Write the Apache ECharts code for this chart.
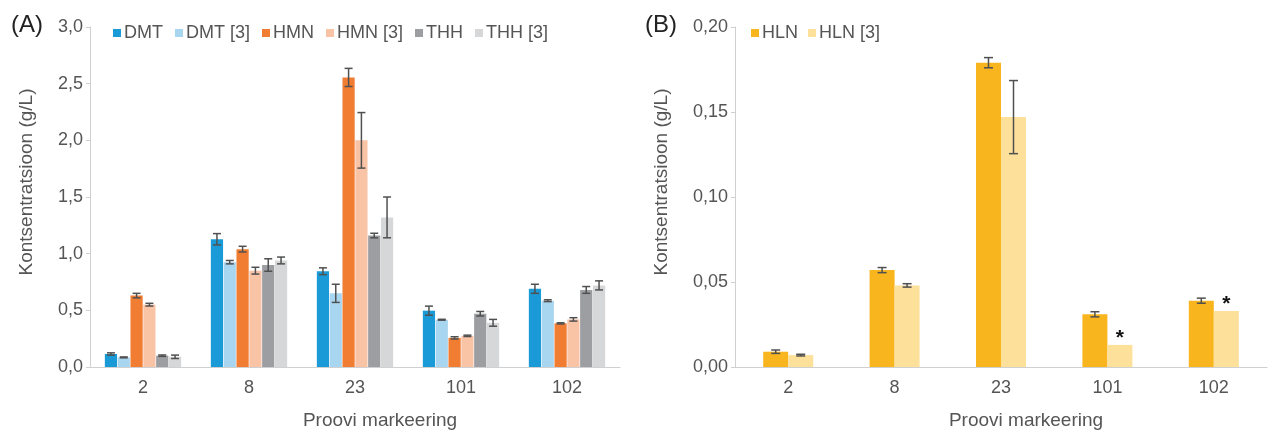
<!DOCTYPE html>
<html><head><meta charset="utf-8">
<script src="https://cdn.jsdelivr.net/npm/echarts@6/dist/echarts.min.js"></script>
<style>html,body{margin:0;padding:0;background:#fff}#c{width:1277px;height:432px}</style>
</head><body><div id="c"></div>
<script>
const categories = ['2', '8', '23', '101', '102'];
const leftNames = ['DMT', 'DMT [3]', 'HMN', 'HMN [3]', 'THH', 'THH [3]'];
const DMT = [0.115, 1.127, 0.845, 0.497, 0.69];
const DMT_err = [0.01, 0.05, 0.03, 0.04, 0.04];
const DMT3 = [0.085, 0.925, 0.65, 0.417, 0.585];
const DMT3_err = [0.004, 0.015, 0.08, 0.004, 0.008];
const HMN = [0.63, 1.04, 2.555, 0.257, 0.385];
const HMN_err = [0.02, 0.025, 0.08, 0.01, 0.005];
const HMN3 = [0.55, 0.85, 2.0, 0.275, 0.42];
const HMN3_err = [0.012, 0.03, 0.245, 0.006, 0.015];
const THH = [0.10, 0.90, 1.16, 0.47, 0.68];
const THH_err = [0.006, 0.055, 0.02, 0.02, 0.03];
const THH3 = [0.09, 0.94, 1.32, 0.39, 0.72];
const THH3_err = [0.015, 0.03, 0.18, 0.03, 0.04];
const rightNames = ['HLN', 'HLN [3]'];
const HLN = [0.009, 0.057, 0.179, 0.031, 0.039];
const HLN_err = [0.001, 0.0015, 0.003, 0.0015, 0.0015];
const HLN3 = [0.007, 0.048, 0.147, 0.013, 0.033];
const HLN3_err = [0.0005, 0.001, 0.0215, 0, 0];
const HLN3_marks = ['', '', '', '*', '*'];
const leftTicks = ['0,0', '0,5', '1,0', '1,5', '2,0', '2,5', '3,0'];
const rightTicks = ['0,00', '0,05', '0,10', '0,15', '0,20'];

const leftColors = ['#1a9bd7', '#a8d5ef', '#f07d32', '#f9c3a6', '#9c9ea2', '#d6d7d9'];
const rightColors = ['#f9b51e', '#fde09a'];
const FONT = 'Liberation Sans';
const TXT = '#555';

const leftVals = [DMT, DMT3, HMN, HMN3, THH, THH3];
const leftErrs = [DMT_err, DMT3_err, HMN_err, HMN3_err, THH_err, THH3_err];
const rightVals = [HLN, HLN3];
const rightErrs = [HLN_err, HLN3_err];

function errSeries(idx, n, catGap, barGap, vals, errs, axisIdx, cap) {
  const data = vals.map((v, i) => [i, v, errs[i]]).filter(d => d[2] > 0);
  return {
    type: 'custom', xAxisIndex: axisIdx, yAxisIndex: axisIdx, z: 10, silent: true,
    data: data,
    encode: { x: 0, y: 1 },
    renderItem: function (params, api) {
      const c = api.value(0), v = api.value(1), e = api.value(2);
      const band = api.size([1, 0])[0];
      const avail = band * (1 - catGap);
      const bw = avail / (n + (n - 1) * barGap);
      const total = n * bw + (n - 1) * bw * barGap;
      const center = api.coord([c, v])[0];
      const x = center - total / 2 + idx * bw * (1 + barGap) + bw / 2;
      const yHi = api.coord([c, v + e])[1];
      const yLo = api.coord([c, v - e])[1];
      const st = { stroke: '#505050', lineWidth: 1.5 };
      return {
        type: 'group', children: [
          { type: 'line', shape: { x1: x, y1: yHi, x2: x, y2: yLo }, style: st },
          { type: 'line', shape: { x1: x - cap, y1: yHi, x2: x + cap, y2: yHi }, style: st },
          { type: 'line', shape: { x1: x - cap, y1: yLo, x2: x + cap, y2: yLo }, style: st }
        ]
      };
    }
  };
}

const series = [];
leftNames.forEach((nm, i) => {
  series.push({
    name: nm, type: 'bar', xAxisIndex: 0, yAxisIndex: 0, data: leftVals[i],
    itemStyle: { color: leftColors[i] }, barGap: '5%', barCategoryGap: '28%'
  });
});
rightNames.forEach((nm, i) => {
  const s = {
    name: nm, type: 'bar', xAxisIndex: 1, yAxisIndex: 1, data: rightVals[i],
    itemStyle: { color: rightColors[i] }, barGap: '0%', barCategoryGap: '53%'
  };
  if (i === 1) {
    s.data = rightVals[i].map((v, k) => ({
      value: v,
      label: { show: HLN3_marks[k] !== '', formatter: HLN3_marks[k], position: 'top',
        color: '#111', fontSize: 21, fontWeight: 'bold', fontFamily: FONT, distance: 0, offset: [0, 4] }
    }));
  }
  series.push(s);
});
leftNames.forEach((nm, i) => series.push(errSeries(i, 6, 0.28, 0.05, leftVals[i], leftErrs[i], 0, 4)));
rightNames.forEach((nm, i) => series.push(errSeries(i, 2, 0.53, 0, rightVals[i], rightErrs[i], 1, 4.5)));

function yAxis(max, interval, ticks, gap) {
  return {
    type: 'value', min: 0, max: max, interval: interval,
    name: 'Kontsentratsioon (g/L)', nameLocation: 'middle', nameGap: gap,
    nameTextStyle: { color: TXT, fontSize: 19, fontFamily: FONT, padding: [0, 0, 0, 30] },
    axisLine: { show: true, lineStyle: { color: '#d0d0d0' } },
    axisTick: { show: true, length: 4, lineStyle: { color: '#d0d0d0' } },
    splitLine: { show: false },
    axisLabel: { color: TXT, fontSize: 18, fontFamily: FONT, margin: 7,
      formatter: v => ticks[Math.round(v / interval)] }
  };
}
function xAxis(idx) {
  return {
    type: 'category', gridIndex: idx, data: categories,
    name: 'Proovi markeering', nameLocation: 'middle', nameGap: 44,
    nameTextStyle: { color: TXT, fontSize: 19, fontFamily: FONT, padding: [0, 0, 0, 50] },
    axisLine: { lineStyle: { color: '#d0d0d0' } },
    axisTick: { show: false },
    axisLabel: { color: TXT, fontSize: 18, fontFamily: FONT, margin: 12 }
  };
}

const yl = yAxis(3, 0.5, leftTicks, 54); yl.gridIndex = 0;
const yr = yAxis(0.2, 0.05, rightTicks, 64); yr.gridIndex = 1;

const option = {
  animation: false,
  grid: [
    { left: 90, top: 27, width: 530, height: 340, outerBoundsMode: 'none', containLabel: false },
    { left: 735, top: 27, width: 532, height: 340, outerBoundsMode: 'none', containLabel: false }
  ],
  legend: [
    { data: leftNames, left: 108, top: 19, itemWidth: 8, itemHeight: 8, itemGap: 12,
      icon: 'rect', textStyle: { color: TXT, fontSize: 18, fontFamily: FONT, padding: [0, 0, 0, -2] } },
    { data: rightNames, left: 746, top: 19, itemWidth: 8, itemHeight: 8, itemGap: 10,
      icon: 'rect', textStyle: { color: TXT, fontSize: 18, fontFamily: FONT, padding: [0, 0, 0, -2] } }
  ],
  xAxis: [xAxis(0), xAxis(1)],
  yAxis: [yl, yr],
  graphic: [
    { type: 'text', left: 11, top: 13, style: { text: '(A)', fill: '#222', fontSize: 24, fontFamily: FONT } },
    { type: 'text', left: 645, top: 13, style: { text: '(B)', fill: '#222', fontSize: 24, fontFamily: FONT } }
  ],
  series: series
};
const chart = echarts.init(document.getElementById('c'));
chart.setOption(option);
</script></body></html>
